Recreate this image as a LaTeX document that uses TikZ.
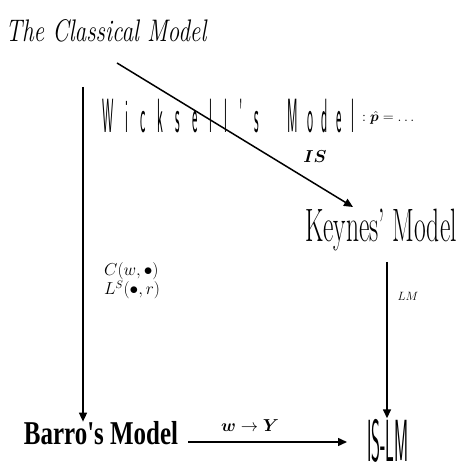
\documentclass[tikz,border=0pt]{standalone}
\usepackage{amsmath,bm}
\usepackage{fontspec}
\newfontfamily\heavyserif{Liberation Serif}
\usetikzlibrary{arrows.meta}
\makeatletter
\newcommand\spacedword[2]{\@tfor\spc@c:=#2\do{\spc@c\hspace{#1}}\unskip}
\makeatother
\tikzset{
  arr/.style={line width=1.5pt,-{Triangle[length=9pt,width=8pt]}},
  lbl/.style={inner sep=1pt},
  big/.style={inner sep=0pt,anchor=base,transform shape},
}
\begin{document}
\begin{tikzpicture}[x=1pt,y=1pt]
\useasboundingbox (0,0) rectangle (462,470);
\node[big,xscale=0.9,yscale=1.2] (cls) at (106,428) {\fontsize{26}{28}\selectfont\itshape The Classical Model};
\node[big,xscale=0.8,yscale=3.0] (wick) at (228,337) {\fontsize{16}{18}\selectfont\sffamily\spacedword{15pt}{Wicksell's}\hspace{36pt}\spacedword{11pt}{Model}};
\node[lbl,anchor=west] (phat) at (361,352) {\fontsize{15}{17}\selectfont $:\hat{\bm p}=\ldots$};
\node[big,xscale=0.85,yscale=1.56] (key) at (381,228) {\fontsize{30}{32}\selectfont Keynes' Model};
\node[big,xscale=0.96,yscale=1.28] (bar) at (101,25) {\fontsize{26}{28}\selectfont\heavyserif\bfseries Barro's Model};
\node[big,xscale=0.78,yscale=2.7,text depth=0pt] (islm) at (388,9) {\fontsize{22}{24}\selectfont\sffamily IS-LM};
\coordinate (d1) at (117,407);
\coordinate (d2) at (353,263);
\draw[arr] (d1) -- (d2);
\node[lbl] (is) at (315,313) {\fontsize{17}{19}\selectfont $\bm{IS}$};
\coordinate (l1) at (83,383);
\draw[arr] (l1) -- (l1 |- bar.north);
\node[lbl,anchor=west,align=left,font=\fontsize{16}{18}\selectfont] (cw) at (103,189) {$C(w,\bullet)$\\$L^S(\bullet,r)$};
\coordinate (r1) at (387,208);
\draw[arr] (r1) -- (r1 |- islm.north);
\node[lbl] (lm) at (408,174) {\fontsize{12}{14}\selectfont $LM$};
\coordinate (h1) at (188,28);
\coordinate (h2) at (347,28);
\draw[arr] (h1) -- (h2);
\node[lbl] (wy) at (250,44) {\fontsize{17}{19}\selectfont $\bm{w}\rightarrow\bm{Y}$};
\end{tikzpicture}
\end{document}
